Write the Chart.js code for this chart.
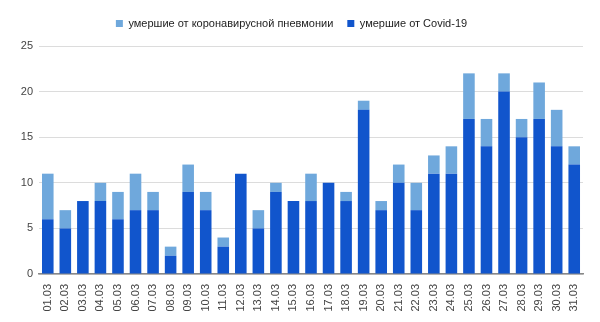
<!DOCTYPE html>
<html>
<head>
<meta charset="utf-8">
<script src="https://cdn.jsdelivr.net/npm/chart.js@4"></script>
<style>
  html, body { margin: 0; padding: 0; background: #fff; }
  #wrap { width: 600px; height: 322px; }
</style>
</head>
<body>
<div id="wrap"><canvas id="chart"></canvas></div>
<script>
// Daily deaths, March
const days = [
  '01.03', '02.03', '03.03', '04.03', '05.03', '06.03', '07.03', '08.03',
  '09.03', '10.03', '11.03', '12.03', '13.03', '14.03', '15.03', '16.03',
  '17.03', '18.03', '19.03', '20.03', '21.03', '22.03', '23.03', '24.03',
  '25.03', '26.03', '27.03', '28.03', '29.03', '30.03', '31.03'
];
const covidDeaths = [6, 5, 8, 8, 6, 7, 7, 2, 9, 7, 3, 11, 5, 9, 8, 8, 10, 8, 18, 7, 10, 7, 11, 11, 17, 14, 20, 15, 17, 14, 12];
const pneumoniaDeaths = [5, 2, 0, 2, 3, 4, 2, 1, 3, 2, 1, 0, 2, 1, 0, 3, 0, 1, 1, 1, 2, 3, 2, 3, 5, 3, 2, 2, 4, 4, 2];
const yTicks = [0, 5, 10, 15, 20, 25];

const FONT = 'Arial, "Liberation Sans", sans-serif';

// extra space between the legend and the plot area
const legendGap = {
  id: 'legendGap',
  beforeInit(chart) {
    const fit = chart.legend.fit;
    chart.legend.fit = function () {
      fit.call(this);
      this.height += 7;
    };
  }
};

new Chart(document.getElementById('chart'), {
  type: 'bar',
  data: {
    labels: days,
    datasets: [
      {
        label: 'умершие от Covid-19',
        data: covidDeaths,
        backgroundColor: '#1155cc',
        barPercentage: 0.66,
        categoryPercentage: 1
      },
      {
        label: 'умершие от коронавирусной пневмонии',
        data: pneumoniaDeaths,
        backgroundColor: '#6fa8dc',
        barPercentage: 0.66,
        categoryPercentage: 1
      }
    ]
  },
  options: {
    responsive: true,
    maintainAspectRatio: false,
    animation: false,
    layout: { padding: { left: 0, right: 17, top: 4, bottom: 0 } },
    plugins: {
      legend: {
        position: 'top',
        labels: {
          boxWidth: 7,
          boxHeight: 7,
          padding: 14,
          color: '#222',
          font: { family: FONT, size: 11 },
          // pneumonia first, like the stack from top to bottom
          sort: (a, b) => b.datasetIndex - a.datasetIndex
        }
      },
      tooltip: { enabled: false }
    },
    scales: {
      x: {
        stacked: true,
        grid: { display: false },
        border: { color: '#888', width: 1.5 },
        ticks: {
          color: '#444',
          minRotation: 90,
          maxRotation: 90,
          padding: 2,
          font: { family: FONT, size: 11 }
        },
        afterFit: axis => { axis.height = 48; }
      },
      y: {
        stacked: true,
        min: 0,
        max: 25,
        afterBuildTicks: axis => { axis.ticks = yTicks.map(v => ({ value: v })); },
        grid: { color: '#dcdcdc', drawTicks: false },
        border: { display: false },
        ticks: {
          color: '#444',
          padding: 6,
          font: { family: FONT, size: 11 }
        },
        afterFit: axis => { axis.width = 39; }
      }
    }
  },
  plugins: [legendGap]
});
</script>
</body>
</html>
